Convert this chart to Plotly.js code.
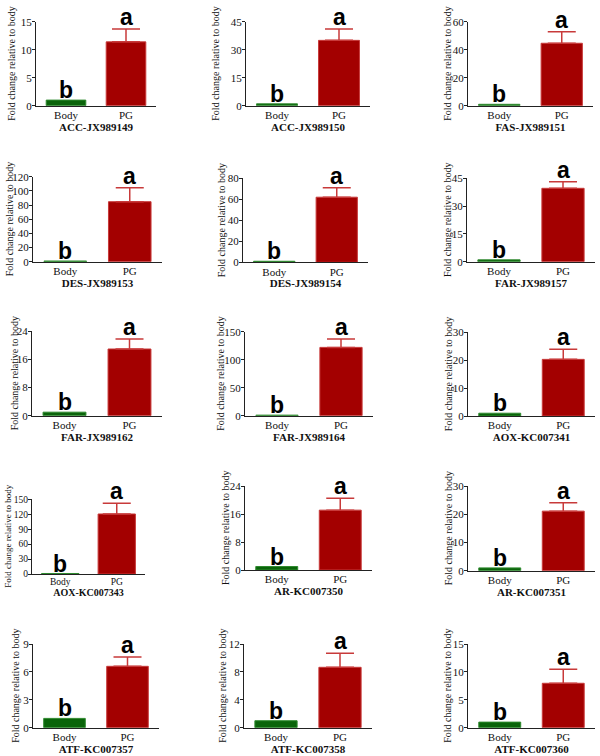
<!DOCTYPE html>
<html>
<head>
<meta charset="utf-8">
<script src="https://cdn.plot.ly/plotly-3.0.1.min.js"></script>
<style>
  html, body { margin: 0; padding: 0; background: #ffffff; }
  #chart { width: 600px; height: 756px; }
</style>
</head>
<body>
<div id="chart"></div>
<script>
// ---------------- data ----------------
const genes = ['ACC-JX989149', 'ACC-JX989150', 'FAS-JX989151',
               'DES-JX989153', 'DES-JX989154', 'FAR-JX989157',
               'FAR-JX989162', 'FAR-JX989164', 'AOX-KC007341',
               'AOX-KC007343', 'AR-KC007350', 'AR-KC007351',
               'ATF-KC007357', 'ATF-KC007358', 'ATF-KC007360'];
const categories = ['Body', 'PG'];
const bodyMean = [1, 1, 1, 1, 1, 1, 1, 1, 1, 1, 1, 1, 1, 1, 1];
const pgMean = [11.4, 35.0, 44.6, 84.7, 62, 39.6, 18.9, 122, 20.3, 120.5, 17.1, 21.1, 6.6, 8.66, 7.96];
const pgErr  = [2.3, 6.1, 8.3, 19.8, 9, 3.6, 2.8, 15, 3.6, 21.5, 3.4, 3.0, 1.0, 2.0, 2.5];
const yMax   = [15, 45, 60, 120, 80, 45, 24, 150, 30, 150, 24, 30, 9, 12, 15];
const yStep  = [5, 15, 20, 20, 20, 15, 8, 50, 10, 30, 8, 10, 3, 4, 5];
const bodyLetter = ['b','b','b','b','b','b','b','b','b','b','b','b','b','b','b'];
const pgLetter   = ['a','a','a','a','a','a','a','a','a','a','a','a','a','a','a'];
const yTitle = 'Fold change relative to body';

// ---------------- layout geometry (pixels) ----------------
const W = 600, H = 756;
const L = [36, 246, 468, 33, 243, 467, 32, 245, 468, 32, 245, 468, 33, 244, 468];
const R = [156, 370, 593, 162, 368, 595, 162, 373, 595, 145, 372, 595, 159, 372, 595];
const T = [21.7, 21.7, 21.7, 176.7, 178.3, 178.3, 331, 331.7, 332.3, 499.3, 486, 486, 644, 644, 644];
const B = [105.7, 105.7, 105.7, 261.7, 262.3, 261.7, 415.7, 415.7, 416, 574, 570, 570.7, 727.7, 727.7, 727.7];
const TX = [12, 216, 448, 9, 221, 447, 14, 221, 448, 8, 225, 448, 16, 223, 448];
const small = [false,false,false,false,false,false,false,false,false,true,false,false,false,false,false];

const GREEN = '#0a640a', GREEN_EDGE = '#2f8a2f';
const RED = '#a30000', RED_EDGE = '#c83a3a';
const SERIF = 'Liberation Serif, Times New Roman, serif';
const SANS = 'Liberation Sans, Arial, sans-serif';

const data = [];
const layout = {
  width: W, height: H,
  margin: {l: 0, r: 0, t: 0, b: 0},
  paper_bgcolor: '#ffffff', plot_bgcolor: '#ffffff',
  showlegend: false,
  barmode: 'overlay',
  annotations: []
};

genes.forEach((g, i) => {
  const n = i + 1;
  const xa = n === 1 ? 'x' : 'x' + n;
  const ya = n === 1 ? 'y' : 'y' + n;
  const tickSize = small[i] ? 9.5 : 11;
  const ytSize = small[i] ? 9 : 10;
  const xtSize = small[i] ? 10 : 11;

  data.push({
    type: 'bar', x: [categories[0]], y: [bodyMean[i]],
    xaxis: xa, yaxis: ya, width: 0.66,
    marker: {color: GREEN, line: {color: GREEN_EDGE, width: 1}},
    hoverinfo: 'x+y'
  });
  data.push({
    type: 'bar', x: [categories[1]], y: [pgMean[i]],
    xaxis: xa, yaxis: ya, width: 0.66,
    marker: {color: RED, line: {color: RED_EDGE, width: 1}},
    error_y: {type: 'data', symmetric: false, array: [pgErr[i]], arrayminus: [0],
              color: RED_EDGE, thickness: 1.5, width: 14, visible: true},
    hoverinfo: 'x+y'
  });

  const xKey = n === 1 ? 'xaxis' : 'xaxis' + n;
  const yKey = n === 1 ? 'yaxis' : 'yaxis' + n;
  layout[xKey] = {
    domain: [L[i] / W, R[i] / W],
    anchor: ya,
    type: 'category',
    categoryorder: 'array', categoryarray: categories,
    range: [-0.5, 1.5],
    showline: true, linecolor: '#222', linewidth: 1,
    ticks: '', showgrid: false, zeroline: false,
    ticklabelstandoff: -1,
    tickfont: {family: SERIF, size: tickSize, color: '#111'},
    title: {text: '<b>' + g + '</b>', font: {family: SERIF, size: xtSize, color: '#111'}, standoff: 2},
    fixedrange: true
  };
  layout[yKey] = {
    domain: [(H - B[i]) / H, (H - T[i]) / H],
    anchor: xa,
    range: [0, yMax[i]],
    dtick: yStep[i], tick0: 0,
    showline: true, linecolor: '#222', linewidth: 1,
    ticks: 'outside', ticklen: 3, tickcolor: '#222', tickwidth: 1,
    ticklabelstandoff: -2,
    showgrid: false, zeroline: false,
    tickfont: {family: SERIF, size: tickSize, color: '#111'},
    fixedrange: true
  };

  // y-axis title (rotated text placed beside each panel)
  layout.annotations.push({
    xref: 'paper', yref: 'paper',
    x: TX[i] / W, y: (H - (T[i] + B[i]) / 2) / H,
    xanchor: 'center', yanchor: 'middle',
    text: yTitle, textangle: -90, showarrow: false,
    font: {family: SERIF, size: ytSize, color: '#111'}
  });

  layout.annotations.push({
    xref: xa, yref: ya, x: 0, y: bodyMean[i],
    text: '<b>' + bodyLetter[i] + '</b>', showarrow: false,
    yanchor: 'bottom', yshift: -5,
    font: {family: SANS, size: 23, color: '#000'}
  });
  layout.annotations.push({
    xref: xa, yref: ya, x: 1, y: pgMean[i] + pgErr[i],
    text: '<b>' + pgLetter[i] + '</b>', showarrow: false,
    yanchor: 'bottom', yshift: -3,
    font: {family: SANS, size: 23, color: '#000'}
  });
});

Plotly.newPlot('chart', data, layout, {displayModeBar: false, staticPlot: true});
</script>
</body>
</html>
